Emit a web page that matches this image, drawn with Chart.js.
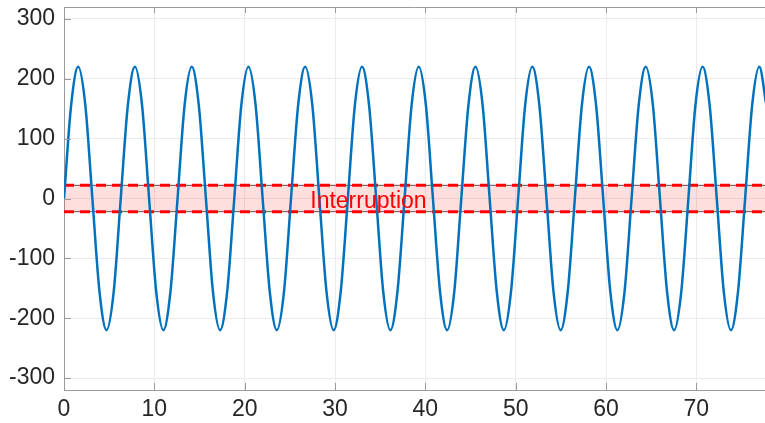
<!DOCTYPE html>
<html>
<head>
<meta charset="utf-8">
<script src="https://cdn.jsdelivr.net/npm/chart.js@4/dist/chart.umd.min.js"></script>
<style>
  html, body { margin: 0; padding: 0; background: #fff; }
  #c { display: block; }
</style>
</head>
<body>
<canvas id="c" width="765" height="423"></canvas>
<script>
// samples, every 1/8 of a period
var xVals = [0, 0.79, 1.57, 2.36, 3.14, 3.93, 4.71, 5.50, 6.28, 7.07, 7.85, 8.64, 9.42, 10.21, 11.00, 11.78,
  12.57, 13.35, 14.14, 14.92, 15.71, 16.49, 17.28, 18.06, 18.85, 19.63, 20.42, 21.21, 21.99, 22.78, 23.56, 24.35,
  25.13, 25.92, 26.70, 27.49, 28.27, 29.06, 29.85, 30.63, 31.42, 32.20, 32.99, 33.77, 34.56, 35.34, 36.13, 36.91,
  37.70, 38.48, 39.27, 40.06, 40.84, 41.63, 42.41, 43.20, 43.98, 44.77, 45.55, 46.34, 47.12, 47.91, 48.69, 49.48,
  50.27, 51.05, 51.84, 52.62, 53.41, 54.19, 54.98, 55.76, 56.55, 57.33, 58.12, 58.90, 59.69, 60.48, 61.26, 62.05,
  62.83, 63.62, 64.40, 65.19, 65.97, 66.76, 67.54, 68.33, 69.12, 69.90, 70.69, 71.47, 72.26, 73.04, 73.83, 74.61,
  75.40, 76.18, 76.97, 77.75];
var yVals = [0, 156, 220, 156, 0, -156, -220, -156, 0, 156, 220, 156, 0, -156, -220, -156,
  0, 156, 220, 156, 0, -156, -220, -156, 0, 156, 220, 156, 0, -156, -220, -156,
  0, 156, 220, 156, 0, -156, -220, -156, 0, 156, 220, 156, 0, -156, -220, -156,
  0, 156, 220, 156, 0, -156, -220, -156, 0, 156, 220, 156, 0, -156, -220, -156,
  0, 156, 220, 156, 0, -156, -220, -156, 0, 156, 220, 156, 0, -156, -220, -156,
  0, 156, 220, 156, 0, -156, -220, -156, 0, 156, 220, 156, 0, -156, -220, -156,
  0, 156, 220, 156];

var xTicks = [0, 10, 20, 30, 40, 50, 60, 70];
var yTicks = [-300, -200, -100, 0, 100, 200, 300];

var bandLow = -22;
var bandHigh = 22;
var bandLabel = "Interruption";
var bandLabelX = 33.7;

var FONT = "'Liberation Sans', Arial, Helvetica, sans-serif";
var AXIS_CLR = "#9a9a9a";

// ── Band (patch + dashed limits) drawn under the curve, label on top ──
var bandPlugin = {
  id: "band",
  beforeDatasetsDraw: function(chart) {
    var ctx = chart.ctx, a = chart.chartArea;
    var ys = chart.scales.y;
    var yHi = ys.getPixelForValue(bandHigh), yLo = ys.getPixelForValue(bandLow);
    ctx.save();
    ctx.fillStyle = "rgba(255,0,0,0.13)";
    ctx.fillRect(a.left, yHi, a.right - a.left, yLo - yHi);
    [yHi, yLo].forEach(function(py) {
      ctx.strokeStyle = "#555";
      ctx.lineWidth = 1;
      ctx.setLineDash([]);
      ctx.beginPath(); ctx.moveTo(a.left, py); ctx.lineTo(a.right, py); ctx.stroke();
      ctx.strokeStyle = "#ff0000";
      ctx.lineWidth = 3;
      ctx.setLineDash([10, 6]);
      ctx.beginPath(); ctx.moveTo(a.left, py); ctx.lineTo(a.right, py); ctx.stroke();
    });
    ctx.restore();
  },
  afterDatasetsDraw: function(chart) {
    var ctx = chart.ctx, a = chart.chartArea;
    var xs = chart.scales.x, ys = chart.scales.y;
    ctx.save();
    ctx.fillStyle = "#ff0000";
    ctx.font = "23px " + FONT;
    ctx.textAlign = "center";
    ctx.textBaseline = "alphabetic";
    ctx.fillText(bandLabel, xs.getPixelForValue(bandLabelX), ys.getPixelForValue(0) + 9);

    // box top line + inward tick marks (matlab style)
    ctx.strokeStyle = AXIS_CLR;
    ctx.lineWidth = 1;
    ctx.beginPath();
    ctx.moveTo(a.left, a.top + 0.5); ctx.lineTo(a.right, a.top + 0.5);
    xTicks.forEach(function(v) {
      var px = Math.round(xs.getPixelForValue(v)) + 0.5;
      ctx.moveTo(px, a.bottom); ctx.lineTo(px, a.bottom - 7);
      ctx.moveTo(px, a.top); ctx.lineTo(px, a.top + 6);
    });
    yTicks.forEach(function(v) {
      var py = Math.round(ys.getPixelForValue(v)) + 0.5;
      ctx.moveTo(a.left, py); ctx.lineTo(a.left + 7, py);
    });
    ctx.stroke();
    ctx.restore();
  }
};

function noPad(s) {
  s.paddingTop = 0; s.paddingBottom = 0; s.paddingLeft = 0; s.paddingRight = 0;
}

var pts = xVals.map(function(x, i) { return { x: x, y: yVals[i] }; });

new Chart(document.getElementById("c").getContext("2d"), {
  type: "line",
  data: {
    datasets: [{
      data: pts,
      borderColor: "#0072BD",
      borderWidth: 2.5,
      pointRadius: 0,
      fill: false,
      cubicInterpolationMode: "monotone"
    }]
  },
  options: {
    responsive: false,
    animation: false,
    events: [],
    layout: { padding: { top: 7, right: 0, bottom: 0, left: 0 } },
    plugins: { legend: { display: false }, tooltip: { enabled: false } },
    scales: {
      x: {
        type: "linear",
        min: 0,
        max: 77.6,
        afterBuildTicks: function(s) { s.ticks = xTicks.map(function(v) { return { value: v }; }); },
        afterFit: function(s) { s.height = 33; noPad(s); },
        grid: { color: "#ebebeb", drawTicks: false },
        border: { color: AXIS_CLR },
        ticks: { color: "#262626", font: { family: FONT, size: 23 }, padding: 6, maxRotation: 0 }
      },
      y: {
        min: -320,
        max: 320,
        afterBuildTicks: function(s) { s.ticks = yTicks.map(function(v) { return { value: v }; }); },
        afterFit: function(s) { s.width = 64; noPad(s); },
        grid: { color: "#ebebeb", drawTicks: false },
        border: { color: AXIS_CLR },
        ticks: { color: "#262626", font: { family: FONT, size: 23 }, padding: 9 }
      }
    }
  },
  plugins: [bandPlugin]
});
</script>
</body>
</html>
